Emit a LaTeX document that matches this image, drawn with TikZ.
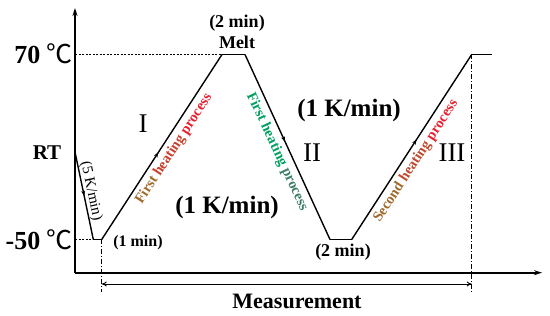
\documentclass[tikz,border=0pt]{standalone}
\usepackage{fontspec}
\setmainfont{Liberation Serif}
\newfontfamily\cjk{Noto Sans CJK SC}
\usetikzlibrary{arrows.meta,decorations.markings}
\definecolor{hbrown}{HTML}{A0692A}
\definecolor{hred}{HTML}{E8202E}
\definecolor{hmid}{HTML}{C8402E}
\definecolor{hgreen}{HTML}{00A062}
\definecolor{hgrey}{HTML}{3E7E66}
\begin{document}
\begin{tikzpicture}[x=1pt,y=1pt,
  axis/.style={line width=1.8pt,-{Stealth[length=8pt,width=5pt]}},
  prof/.style={line width=1.4pt},
  midarrow/.style={postaction={decorate},decoration={markings,mark=at position #1 with {\arrow{Stealth[length=5pt,width=4pt]}}}},
  lbl/.style={font=\bfseries\fontsize{#1}{#1}\selectfont, inner sep=0pt},
  rlbl/.style={font=\fontsize{#1}{#1}\selectfont, inner sep=0pt},
  guide/.style={line width=0.6pt, dash pattern=on 2pt off 1.5pt},
  dashdot/.style={line width=0.7pt, dash pattern=on 5pt off 2pt on 1pt off 2pt},
]
\useasboundingbox (0,0) rectangle (550,316);
% axes
\coordinate (O) at (75,43.3);
\coordinate (Ytop) at (75,308);
\coordinate (Xend) at (542,43.3);
\draw[axis] (O) -- (Ytop);
\draw[axis] (O) -- (Xend);
% profile points
\coordinate (RT) at (75,164);
\coordinate (P1) at (93.3,76.5);
\coordinate (P2) at (101.7,76.5);
\coordinate (P3) at (222,261.5);
\coordinate (P4) at (245,261.5);
\coordinate (P5) at (330,76.5);
\coordinate (P6) at (351.7,76.5);
\coordinate (P7) at (471.7,261.5);
\coordinate (P8) at (491.7,261.5);
\coordinate (L70) at (75,261.5);
\coordinate (L50) at (75,76.5);
\coordinate (D1) at (101.7,24.3);
\coordinate (D2) at (471.7,24.3);
\coordinate (M1) at (101.7,32);
\coordinate (M2) at (471.7,32);
% guides
\draw[guide] (L70) -- (P3);
\draw[guide] (L50) -- (P1);
\draw[dashdot] (P2) -- (D1);
\draw[dashdot] (P7) -- (D2);
% profile
\draw[prof, midarrow=0.5] (RT) -- (P1);
\draw[prof] (P1) -- (P2);
\draw[prof, midarrow=0.47] (P2) -- (P3);
\draw[prof] (P3) -- (P4);
\draw[prof, midarrow=0.47] (P4) -- (P5);
\draw[prof] (P5) -- (P6);
\draw[prof, midarrow=0.54] (P6) -- (P7);
\draw[prof] (P7) -- (P8);
% measurement
\draw[line width=0.9pt, {To[length=5pt,width=5pt]}-{To[length=5pt,width=5pt]}] (M1) -- (M2);
\node[lbl=22] (meas) at (297,15) {Measurement};
% axis labels
\node[lbl=26, anchor=east] (t70) at (73,262) {70 {\cjk\mdseries ℃}};
\node[lbl=26, anchor=east] (t50) at (73,76) {-50 {\cjk\mdseries ℃}};
\node[lbl=21] (tRT) at (47,163) {RT};
% top labels
\node[lbl=18] (tmin2) at (237,293) {(2 min)};
\node[lbl=18] (tmelt) at (237,274) {Melt};
% roman numerals
\node[rlbl=27] (r1) at (143,192) {I};
\node[rlbl=27] (r2) at (312,163) {II};
\node[rlbl=27] (r3) at (452,163) {III};
% rates
\node[lbl=25] (k1) at (349,206) {(1 K/min)};
\node[lbl=25] (k2) at (227,109) {(1 K/min)};
\node[lbl=16] (m1) at (138,73) {(1 min)};
\node[lbl=18] (m2) at (343,64) {(2 min)};
\node[rlbl=15, rotate=-78] (k5) at (91,125) {(5 K/min)};
% along-line texts
\node[lbl=14.5, rotate=57] (fh1) at (174,167) {\textcolor{hbrown}{First} \textcolor{hmid}{heating} \textcolor{hred}{process}};
\node[lbl=14.5, rotate=-65] (fh2) at (277,164) {\textcolor{hgreen}{First heating} \textcolor{hgrey}{process}};
\node[lbl=14.5, rotate=57] (sh) at (416,155) {\textcolor{hbrown}{Second} \textcolor{hmid!80!hbrown}{heating} \textcolor{hred}{process}};
\end{tikzpicture}
\end{document}
